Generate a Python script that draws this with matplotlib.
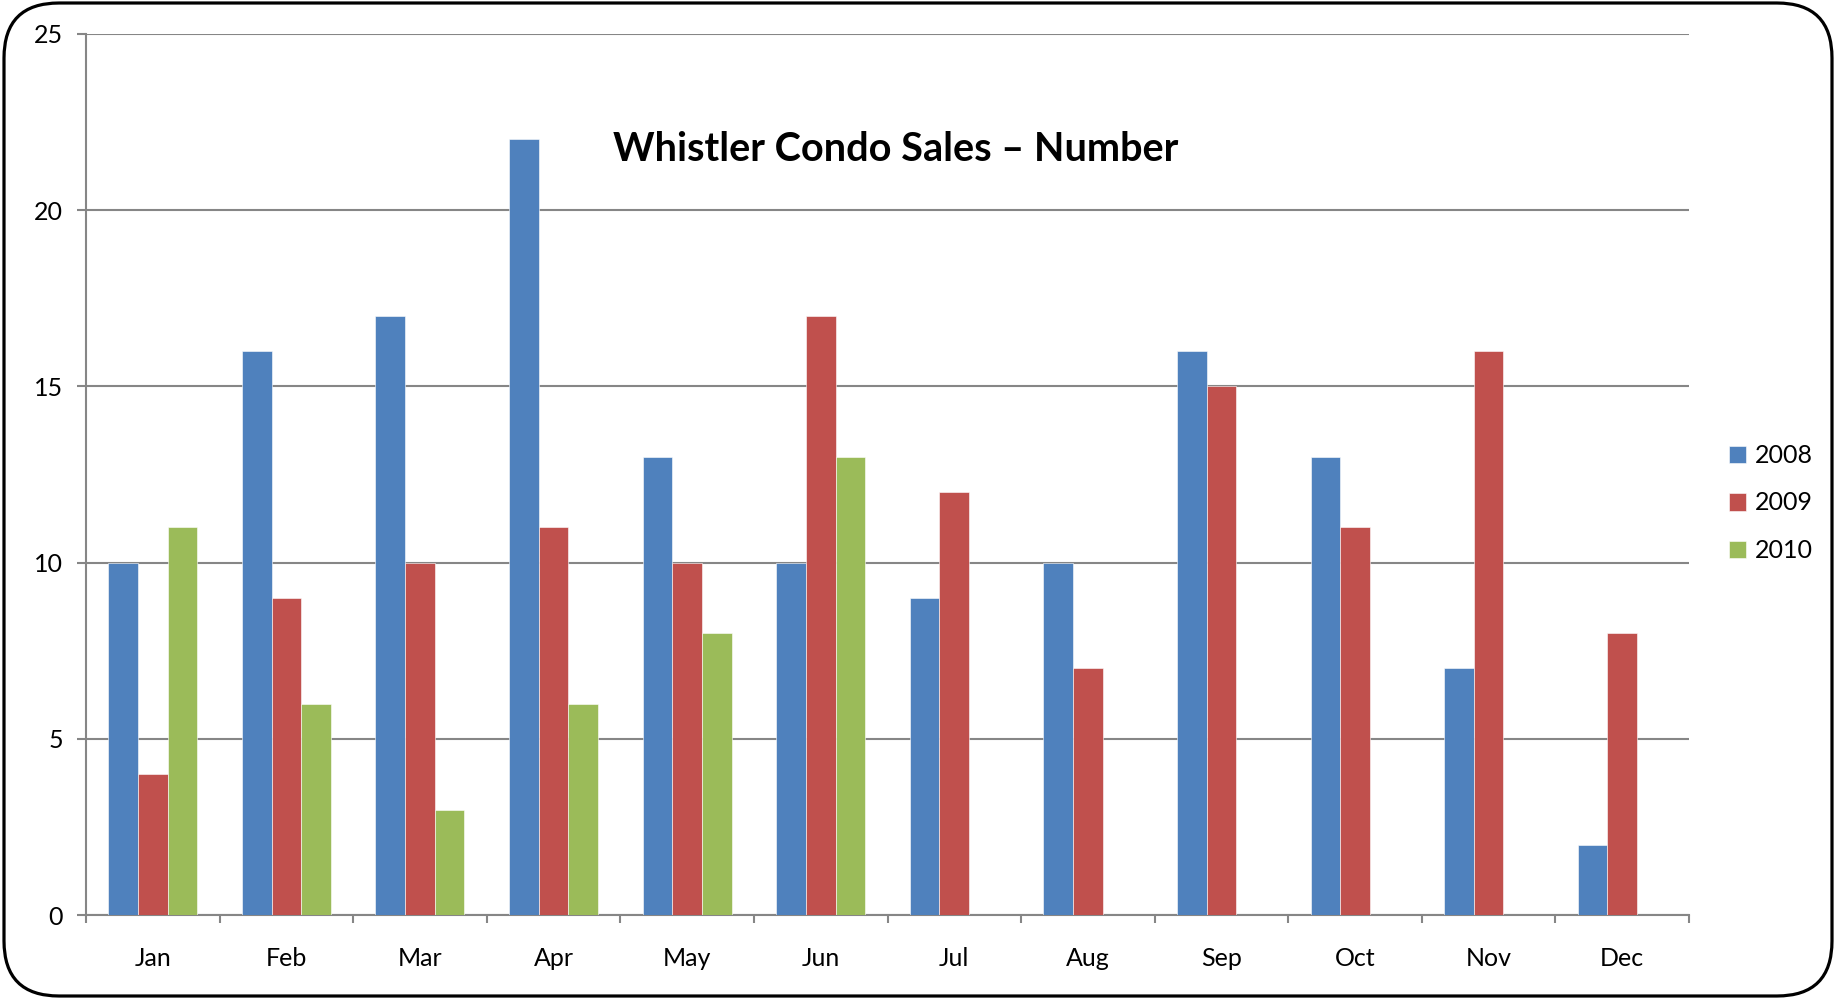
import numpy as np
import matplotlib
matplotlib.use("Agg")
import matplotlib.pyplot as plt
from matplotlib.patches import FancyBboxPatch

plt.rcParams['font.family'] = ['Lato', 'DejaVu Sans']

months = ["Jan", "Feb", "Mar", "Apr", "May", "Jun",
          "Jul", "Aug", "Sep", "Oct", "Nov", "Dec"]
sales_2008 = [10, 16, 17, 22, 13, 10, 9, 10, 16, 13, 7, 2]
sales_2009 = [4, 9, 10, 11, 10, 17, 12, 7, 15, 11, 16, 8]
sales_2010 = [11, 6, 3, 6, 8, 13]
years = ["2008", "2009", "2010"]
colors = ["#4F81BD", "#C0504D", "#9BBB59"]

fig = plt.figure(figsize=(18.35, 10), dpi=100)

# rounded frame around the whole chart
frame = FancyBboxPatch((4 / 1835, 4 / 1000), 1828 / 1835, 993 / 1000,
                       boxstyle="round,pad=0,rounding_size=0.03",
                       transform=fig.transFigure, fill=False,
                       edgecolor="black", linewidth=2.3,
                       mutation_aspect=1835 / 1000)
fig.patches.append(frame)

ax = fig.add_axes([86 / 1835, 84.7 / 1000, 1603 / 1835, 881.6 / 1000])

x = np.arange(len(months))
w = 1 / 4.5
series = [sales_2008, sales_2009, sales_2010]
for k, (vals, yr, c) in enumerate(zip(series, years, colors)):
    xs = x[:len(vals)] + (k - 1) * w
    ax.bar(xs, vals, width=w, color=c, label=yr,
           edgecolor="white", linewidth=0.4, zorder=3)

ax.set_xlim(-0.5, 11.5)
ax.set_ylim(0, 25)
ax.set_yticks(range(0, 26, 5))
ax.yaxis.grid(True, color="#868686", linewidth=1.5, zorder=0)

ax.set_xticks(x)
ax.set_xticklabels(months)
ax.set_xticks(np.arange(-0.5, 12, 1), minor=True)
ax.tick_params(axis="x", which="major", length=0, pad=23, labelsize=18)
ax.tick_params(axis="x", which="minor", length=6, width=1.5,
               color="#868686", direction="out")
ax.tick_params(axis="y", length=6.5, width=1.5, color="#868686",
               pad=10, labelsize=18)

for s in ["top", "right"]:
    ax.spines[s].set_visible(False)
for s in ["left", "bottom"]:
    ax.spines[s].set_color("#868686")
    ax.spines[s].set_linewidth(1.5)

ax.text(0.505, 0.869, "Whistler Condo Sales \u2013 Number", transform=ax.transAxes,
        ha="center", va="center", fontsize=28.5, fontweight="bold")

fig.legend(loc="center left", bbox_to_anchor=(1706 / 1835, 0.497),
           frameon=False, fontsize=18, handlelength=0.7, handleheight=0.7,
           handletextpad=0.35, labelspacing=0.98)

fig.savefig("out.png", dpi=100)
